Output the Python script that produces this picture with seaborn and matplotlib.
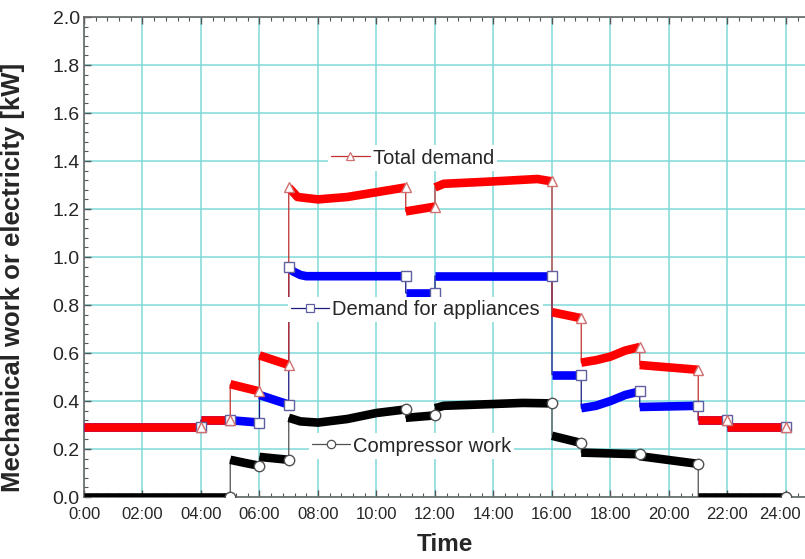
import matplotlib
matplotlib.use("Agg")
import matplotlib.pyplot as plt
from matplotlib.lines import Line2D
from matplotlib.ticker import MultipleLocator
from matplotlib.transforms import ScaledTranslation
import pandas as pd
import seaborn as sns

# Daily load profile, one block per schedule period: (hours, kW)
total_t = [[0, 4], [4, 5], [5, 6], [6, 7], [7, 7.3, 8, 9, 10, 11], [11, 12],
           [12, 12.3, 14, 15.5, 16], [16, 17], [17, 17.5, 18, 18.5, 19],
           [19, 20, 21], [21, 22], [22, 24]]
total_v = [[0.29, 0.29], [0.32, 0.32], [0.47, 0.44], [0.59, 0.55],
           [1.29, 1.25, 1.24, 1.25, 1.27, 1.29], [1.19, 1.21],
           [1.29, 1.305, 1.315, 1.325, 1.315], [0.77, 0.745],
           [0.56, 0.57, 0.585, 0.61, 0.625], [0.55, 0.54, 0.53],
           [0.32, 0.32], [0.29, 0.29]]

appl_t = [[0, 4], [4, 5], [5, 6], [6, 7], [7, 7.15, 7.4, 7.6, 11], [11, 12],
          [12, 16], [16, 17], [17, 17.5, 18, 18.5, 19], [19, 21], [21, 22],
          [22, 24]]
appl_v = [[0.29, 0.29], [0.32, 0.32], [0.32, 0.31], [0.425, 0.385],
          [0.96, 0.94, 0.925, 0.92, 0.92], [0.85, 0.85], [0.92, 0.92],
          [0.51, 0.51], [0.37, 0.38, 0.40, 0.425, 0.44], [0.375, 0.38],
          [0.32, 0.32], [0.29, 0.29]]

comp_t = [[0, 5], [5, 5.5, 6], [6, 7], [7, 7.4, 8, 9, 10, 11], [11, 12],
          [12, 12.3, 13, 15, 16], [16, 17], [17, 19], [19, 21], [21, 24]]
comp_v = [[0.0, 0.0], [0.155, 0.142, 0.13], [0.167, 0.155],
          [0.33, 0.315, 0.31, 0.325, 0.35, 0.365], [0.33, 0.34],
          [0.37, 0.38, 0.383, 0.392, 0.39], [0.255, 0.225], [0.185, 0.178],
          [0.17, 0.138], [0.0, 0.0]]

tick_hours = list(range(0, 25, 2))
tick_labels = ["0:00", "02:00", "04:00", "06:00", "08:00", "10:00", "12:00",
               "14:00", "16:00", "18:00", "20:00", "22:00", "24:00"]

series = {
    "Demand for appliances": (appl_t, appl_v),
    "Total demand": (total_t, total_v),
    "Compressor work": (comp_t, comp_v),
}
band_color = {"Total demand": "#ff0000", "Demand for appliances": "#0000ff",
              "Compressor work": "#000000"}
thin_color = {"Total demand": "#c03030", "Demand for appliances": "#1a1a80",
              "Compressor work": "#505050"}
edge_color = {"Total demand": "#d07070", "Demand for appliances": "#6060a0",
              "Compressor work": "#505050"}
marker = {"Total demand": "^", "Demand for appliances": "s",
          "Compressor work": "o"}
# blocks whose first point also carries a marker
start_marked = {"Total demand": [4], "Demand for appliances": [4],
                "Compressor work": []}

rows = []
for name, (ts, vs) in series.items():
    for k, (t, v) in enumerate(zip(ts, vs)):
        for ti, vi in zip(t, v):
            rows.append({"series": name, "block": f"{name}-{k}", "k": k,
                         "time": ti, "kW": vi})
df = pd.DataFrame(rows)

sns.set_style("ticks")
plt.rcParams["font.family"] = ["Liberation Sans", "DejaVu Sans"]

fig = plt.figure(figsize=(8.05, 5.59), dpi=100)
ax = fig.add_axes([84 / 805, 62 / 559, 721 / 805, 480 / 559])

order = list(series.keys())

# thin continuous trace joining the blocks
for name in order:
    sub = df[df.series == name]
    sns.lineplot(data=sub, x="time", y="kW", estimator=None, sort=False,
                 color=thin_color[name], lw=0.9, ax=ax, zorder=2,
                 legend=False)

# thick bands for each block
sns.lineplot(data=df, x="time", y="kW", hue="series", hue_order=order,
             units="block", estimator=None, sort=False, palette=band_color,
             lw=6.2, solid_capstyle="butt", legend=False, ax=ax, zorder=3)

# open markers at block ends
for name in order:
    sub = df[df.series == name]
    ends = sub.groupby("block", sort=False).tail(1)
    starts = sub.groupby("block", sort=False).head(1)
    starts = starts[starts.k.isin(start_marked[name])]
    pts = pd.concat([ends, starts])
    ax.plot(pts.time, pts.kW, ls="none", marker=marker[name], ms=7.5,
            mfc="white", mec=edge_color[name], mew=1.0, zorder=4)

ax.set_xlim(0, 24.65)
ax.set_ylim(0, 2.0)
ax.set_xticks(tick_hours)
ax.set_xticklabels(tick_labels)
ax.set_yticks([i / 10 for i in range(0, 21, 2)])
ax.set_yticklabels([f"{i / 10:.1f}" for i in range(0, 21, 2)])
ax.xaxis.set_minor_locator(MultipleLocator(0.4))
ax.yaxis.set_minor_locator(MultipleLocator(0.04))
ax.tick_params(axis="x", which="major", labelsize=12, pad=7)
ax.tick_params(axis="y", which="major", labelsize=14, pad=3)
ax.tick_params(which="both", direction="in", top=True, right=False,
               color="#555555")
ax.tick_params(which="major", length=5, width=1)
ax.tick_params(which="minor", length=3, width=0.8)

# keep the last hour label inside the figure edge
last = ax.get_xticklabels()[-1]
last.set_transform(last.get_transform()
                   + ScaledTranslation(-4 / 72, 0, fig.dpi_scale_trans))

ax.grid(True, which="major", color="#80dada", lw=1.1)
ax.set_axisbelow(True)
for side in ("left", "bottom", "top"):
    ax.spines[side].set_color("#666666")
    ax.spines[side].set_linewidth(1.2)
ax.spines["right"].set_visible(False)

ax.set_xlabel("Time", fontsize=17.5, fontweight="bold", labelpad=8)
ax.set_ylabel("Mechanical work or electricity [kW]", fontsize=18.5,
              fontweight="bold")
ax.yaxis.set_label_coords(-0.082, 0.458)

# inline keys placed beside each curve
keys = [("Total demand", 8.35, 1.4125),
        ("Demand for appliances", 6.98, 0.783),
        ("Compressor work", 7.68, 0.2125)]
for name, kx, ky in keys:
    h = Line2D([], [], color=thin_color[name], lw=0.9, marker=marker[name],
               ms=6, mfc="white", mec=edge_color[name], mew=0.9)
    leg = ax.legend(handles=[h], labels=[name], loc="center left",
                    bbox_to_anchor=(kx, ky), bbox_transform=ax.transData,
                    frameon=True, fancybox=False, framealpha=1,
                    facecolor="white", edgecolor="white", fontsize=14.5,
                    handlelength=1.9, handletextpad=0.15, borderpad=0.15,
                    borderaxespad=0)
    leg.get_frame().set_linewidth(0)
    leg.set_zorder(5)
    ax.add_artist(leg)

fig.savefig("out.png", dpi=100)
